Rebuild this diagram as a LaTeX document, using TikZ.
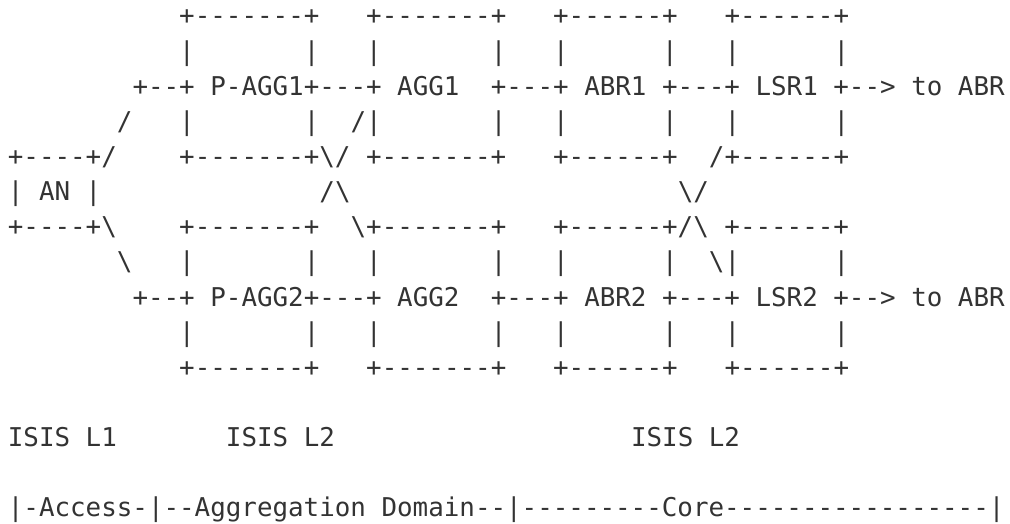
\documentclass[tikz,border=0pt]{standalone}
\usepackage{fontspec}
\setmonofont{DejaVu Sans Mono}
\tikzset{
	% one run of characters on the text grid
	ascii/.style={font=\ttfamily\fontsize{19.4}{20}\selectfont,text=black!80,inner sep=0pt,anchor=base west},
}
\begin{document}
\begin{tikzpicture}[x=11.685pt,y=-26.355pt]
\useasboundingbox (-0.488,0.2886) rectangle (64.34,15.2003);
% box tops and bottoms
\foreach \r in {1,11}{
  \node[ascii] (pagg\r) at (11,\r) {+-------+};
  \node[ascii] (agg\r) at (23,\r) {+-------+};
  \node[ascii] (abr\r) at (35,\r) {+------+};
  \node[ascii] (lsr\r) at (46,\r) {+------+};
}
% box sides
\foreach \r in {2,10}
  \foreach \c in {11,19,23,31,35,42,46,53}
    \node[ascii] (side\r-\c) at (\c,\r) {|};
\foreach \c in {11,19,31,35,42,46,53}
  \node[ascii] (side4-\c) at (\c,4) {|};
\foreach \c in {11,19,23,31,35,42,53}
  \node[ascii] (side8-\c) at (\c,8) {|};
% first row of nodes
\node[ascii] (row1a) at (8,3) {+--+ P-AGG1+---+ AGG1};
\node[ascii] (row1b) at (31,3) {+---+ ABR1 +---+ LSR1 +--> to ABR};
% second row of nodes
\node[ascii] (row2a) at (8,9) {+--+ P-AGG2+---+ AGG2};
\node[ascii] (row2b) at (31,9) {+---+ ABR2 +---+ LSR2 +--> to ABR};
% links and crossings
\node[ascii] (up1) at (7,4) {/};
\node[ascii] (up2) at (22,4) {/|};
\node[ascii] (an1) at (0,5) {+----+/};
\node[ascii] (mid1) at (11,5) {+-------+\textbackslash/ +-------+};
\node[ascii] (abr5) at (35,5) {+------+};
\node[ascii] (lsr5) at (45,5) {/+------+};
\node[ascii] (an2) at (0,6) {| AN |};
\node[ascii] (x1) at (20,6) {/\textbackslash};
\node[ascii] (x2) at (43,6) {\textbackslash/};
\node[ascii] (an3) at (0,7) {+----+\textbackslash};
\node[ascii] (pagg7) at (11,7) {+-------+};
\node[ascii] (agg7) at (22,7) {\textbackslash+-------+};
\node[ascii] (mid2) at (35,7) {+------+/\textbackslash{} +------+};
\node[ascii] (dn1) at (7,8) {\textbackslash};
\node[ascii] (dn2) at (45,8) {\textbackslash|};
% levels and domains
\node[ascii] (lvl1) at (0,13) {ISIS L1};
\node[ascii] (lvl2) at (14,13) {ISIS L2};
\node[ascii] (lvl3) at (40,13) {ISIS L2};
\node[ascii] (dom) at (0,15) {|-Access-|--Aggregation Domain--|---------Core-----------------|};
\end{tikzpicture}
\end{document}
